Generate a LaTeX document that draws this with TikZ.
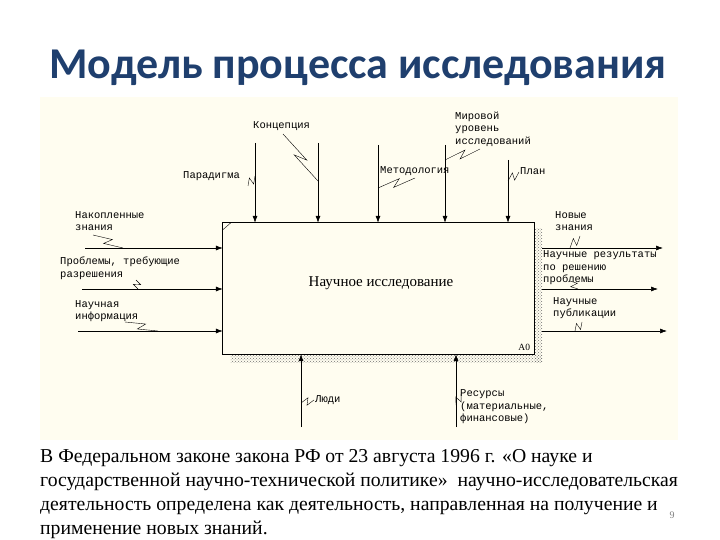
\documentclass[tikz,border=0pt]{standalone}
\usepackage{fontspec}
\setmainfont{Liberation Serif}
\newfontfamily\titlefont{Carlito}
\newfontfamily\idefont{Liberation Mono}
\usetikzlibrary{arrows.meta, positioning, calc, patterns}
\definecolor{titleblue}{HTML}{1F3F6E}
\definecolor{cream}{HTML}{FFFDF0}

\begin{document}
\begin{tikzpicture}[
    x=1pt, y=-1pt,
    lbl/.style={font=\idefont\fontsize{10.5}{12.5}\selectfont, align=left, inner sep=0pt, anchor=west},
    arrow/.style={-{Latex[length=7pt, width=5pt]}, semithick},
    squig/.style={thin, to path={-- ($(\tikztostart)!0.6!(\tikztotarget)!3.5pt!90:(\tikztotarget)$) -- ($(\tikztostart)!0.4!(\tikztotarget)!3.5pt!-90:(\tikztotarget)$) -- (\tikztotarget)}}
]
    \useasboundingbox[fill=white] (0,0) rectangle (720,540);
    \fill[cream] (40,97) rectangle (678,440);

    % Title
    \node[font=\titlefont\bfseries\fontsize{44}{46}\selectfont, text=titleblue] (title) at (358,68) {Модель процесса исследования};

    % Activity box with shadow
    \node[minimum width=311pt, minimum height=131pt, inner sep=0pt] (box) at (378.5,288.5) {};
    \fill[pattern=crosshatch dots, pattern color=black!55] ($(box.north east)+(1,6)$) rectangle ($(box.south east)+(8,8)$);
    \fill[pattern=crosshatch dots, pattern color=black!55] ($(box.south west)+(8,1)$) rectangle ($(box.south east)+(8,8)$);
    \draw[line width=1.1pt, fill=cream] (box.north west) rectangle (box.south east);
    \draw[thin] ($(box.north west)+(0,7)$) -- ($(box.north west)+(8,0)$);
    \node[font=\fontsize{15}{17}\selectfont] (act) at (381,283) {Научное исследование};
    \node[font=\fontsize{9.5}{10}\selectfont, anchor=south east, inner sep=1pt] (a0) at ($(box.south east)+(-3,-2)$) {A0};
    \coordinate (shadowE) at ($(box.east)+(8,0)$);

    % Controls
    \coordinate (paradtop) at (255,143);
    \coordinate (konctop) at (318,143);
    \coordinate (metodtop) at (378,145);
    \coordinate (mirtop) at (445,145);
    \coordinate (plantop) at (508,160);
    \foreach \c in {paradtop, konctop, metodtop, mirtop, plantop}
        \draw[arrow] (\c) -- (\c |- box.north);

    % Inputs
    \coordinate (nakin) at (85,248);
    \coordinate (problin) at (82,289);
    \coordinate (infin) at (78,331);
    \foreach \c in {nakin, problin, infin}
        \draw[arrow] (\c) -- (\c -| box.west);

    % Outputs
    \coordinate (novout) at (663,248);
    \coordinate (resout) at (658,289);
    \coordinate (publout) at (667,331);
    \foreach \c in {novout, resout, publout}
        \draw[arrow] (shadowE |- \c) -- (\c);

    % Mechanisms
    \coordinate (ludibot) at (301,427);
    \coordinate (resbot) at (456,427);
    \foreach \c in {ludibot, resbot}
        \draw[arrow] (\c) -- (\c |- box.south);

    % Labels
    \node[lbl] (konc) at (253,126) {Концепция};
    \node[lbl] (parad) at (183,176) {Парадигма};
    \node[lbl] (metod) at (380,171) {Методология};
    \node[lbl] (mir) at (455,129) {Мировой\\уровень\\исследований};
    \node[lbl] (plan) at (520,171) {План};
    \node[lbl] (nak) at (75,221) {Накопленные\\знания};
    \node[lbl] (probl) at (60,268) {Проблемы, требующие\\разрешения};
    \node[lbl] (inf) at (75,311) {Научная\\информация};
    \node[lbl] (nov) at (555,221) {Новые\\знания};
    \node[lbl] (res) at (543,268) {Научные результаты\\по решению\\проблемы};
    \node[lbl] (publ) at (553,308) {Научные\\публикации};
    \node[lbl] (ludi) at (315,400) {Люди};
    \node[lbl] (resurs) at (460,407) {Ресурсы\\(материальные,\\финансовые)};

    % Squiggles
    \coordinate (konc2) at (318,181);
    \coordinate (parad2) at (255,176);
    \coordinate (metod2) at (378,188);
    \coordinate (mir2) at (445,160);
    \coordinate (plan2) at (508,181);
    \coordinate (nak2) at (123,248);
    \coordinate (probl2) at (138,289);
    \coordinate (inf2) at (158,331);
    \coordinate (nov2) at (570,248);
    \coordinate (res2) at (578,289);
    \coordinate (publ2) at (575,331);
    \coordinate (ludi2) at (301,403);
    \coordinate (resurs2) at (456,405);
    \draw[squig] (283,134) to (konc2);
    \draw[squig] (248,186) to (parad2);
    \draw[squig] (415,178) to (metod2);
    \draw[squig] (480,149) to (mir2);
    \draw[squig] (519,172) to (plan2);
    \draw[squig] (93,235) to (nak2);
    \draw[squig] (136,280) to (probl2);
    \draw[squig] (125,322) to (inf2);
    \draw[squig] (580,236) to (nov2);
    \draw[squig] (570,281) to (res2);
    \draw[squig] (582,322) to (publ2);
    \draw[squig] (314,400) to (ludi2);
    \draw[squig] (461,394) to (resurs2);

    % Text below
    \node[anchor=north west, align=left, inner sep=0pt, font=\fontsize{19.7}{24}\selectfont] (txt) at (40,449)
        {В Федеральном законе закона РФ от 23 августа 1996 г. «О науке и\\
         государственной научно-технической политике»\ \ научно-исследовательская\\
         деятельность определена как деятельность, направленная на получение и\\
         применение новых знаний.};
    \node[text=black!50, font=\fontsize{10}{11}\selectfont] (pg) at (672,515) {9};
\end{tikzpicture}
\end{document}
